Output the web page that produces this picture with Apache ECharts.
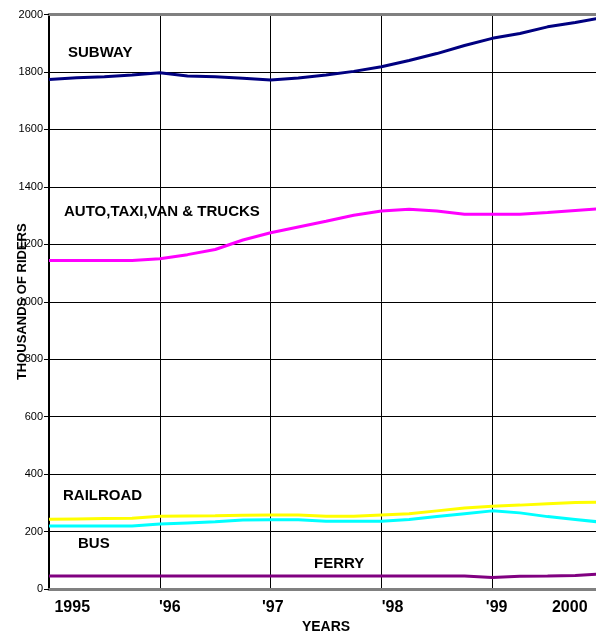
<!DOCTYPE html>
<html>
<head>
<meta charset="utf-8">
<script src="https://cdn.jsdelivr.net/npm/echarts@6/dist/echarts.min.js"></script>
<style>
html,body{margin:0;padding:0;background:#fff;}
#chart{width:596px;height:631px;}
</style>
</head>
<body>
<div id="chart"></div>
<script>
// x positions of readings (decimal years, quarterly)
const quarters = [1995, 1995.25, 1995.5, 1995.75, 1996, 1996.25, 1996.5, 1996.75,
  1997, 1997.25, 1997.5, 1997.75, 1998, 1998.25, 1998.5, 1998.75,
  1999, 1999.25, 1999.5, 1999.75, 2000];

// thousands of riders
const subway   = [1774, 1780, 1783, 1789, 1797, 1786, 1783, 1778, 1772, 1779, 1789, 1802, 1818, 1840, 1864, 1892, 1917, 1934, 1957, 1972, 1990];
const auto     = [1144, 1144, 1144, 1144, 1150, 1164, 1182, 1215, 1240, 1260, 1280, 1301, 1316, 1322, 1316, 1305, 1305, 1305, 1311, 1318, 1324];
const railroad = [243, 244, 245, 246, 253, 254, 255, 257, 258, 258, 253, 253, 258, 262, 272, 282, 288, 292, 297, 301, 302];
const bus      = [219, 219, 219, 219, 226, 230, 234, 240, 241, 241, 236, 236, 236, 242, 252, 262, 272, 265, 252, 242, 232];
const ferry    = [45, 45, 45, 45, 45, 45, 45, 45, 45, 45, 45, 45, 45, 45, 45, 45, 40, 44, 45, 47, 53];

const yearLabels = ['1995', "'96", "'97", "'98", "'99", '2000'];
// where each year label sits along the axis (layout)
const yearLabelPos = [1995.21, 1996.09, 1997.02, 1998.10, 1999.04, 1999.70];

const seriesNames = ['SUBWAY', 'AUTO,TAXI,VAN & TRUCKS', 'RAILROAD', 'BUS', 'FERRY'];

function pairs(vals) { return quarters.map((q, i) => [q, vals[i]]); }

const chart = echarts.init(document.getElementById('chart'), null, {renderer: 'canvas'});
const font = '"Liberation Sans", Arial, Helvetica, sans-serif';
const lbl = (text, x, y) => ({type: 'text', x: x, y: y, z: 10,
  style: {text: text, fill: '#000', font: 'bold 15px ' + font, verticalAlign: 'middle', align: 'left'}});

chart.setOption({
  animation: false,
  backgroundColor: '#fff',
  textStyle: {fontFamily: font},
  grid: {left: 49, right: -7, top: 14.5, bottom: 42, containLabel: false, outerBoundsMode: 'none'},
  xAxis: [{
    type: 'value', min: 1995, max: 2000, interval: 1,
    position: 'bottom',
    name: 'YEARS', nameLocation: 'middle', nameGap: 31, nameMoveOverlap: false,
    nameTextStyle: {fontSize: 14, fontWeight: 'bold', color: '#000', fontFamily: font},
    axisLine: {show: true, onZero: false, lineStyle: {color: '#808080', width: 3}},
    axisTick: {show: false},
    splitLine: {show: true, lineStyle: {color: '#000', width: 1}},
    axisLabel: {
      customValues: yearLabelPos,
      margin: 11, fontSize: 16, fontWeight: 'bold', color: '#000', fontFamily: font,
      formatter: function (v) {
        let best = 0, d = Infinity;
        yearLabelPos.forEach((p, i) => { if (Math.abs(p - v) < d) { d = Math.abs(p - v); best = i; } });
        return yearLabels[best];
      }
    }
  }, {
    type: 'value', min: 1995, max: 2000, position: 'top',
    axisLine: {show: true, onZero: false, lineStyle: {color: '#808080', width: 3}},
    axisTick: {show: false}, axisLabel: {show: false}, splitLine: {show: false}
  }],
  yAxis: {
    type: 'value', min: 0, max: 2000, interval: 200,
    name: 'THOUSANDS OF RIDERS', nameLocation: 'middle', nameGap: 20, nameRotate: 90, nameMoveOverlap: false,
    nameTextStyle: {fontSize: 13, fontWeight: 'bold', color: '#000', fontFamily: font},
    axisLine: {show: true, lineStyle: {color: '#000', width: 2}},
    axisTick: {show: true, length: 5, lineStyle: {color: '#000', width: 1}},
    axisLabel: {margin: 6, fontSize: 11, color: '#000', fontFamily: font, formatter: v => String(v)},
    splitLine: {show: true, lineStyle: {color: '#000', width: 1}}
  },
  series: [
    {name: seriesNames[0], type: 'line', data: pairs(subway), color: '#000080'},
    {name: seriesNames[1], type: 'line', data: pairs(auto), color: '#FF00FF'},
    {name: seriesNames[2], type: 'line', data: pairs(railroad), color: '#FFFF00'},
    {name: seriesNames[3], type: 'line', data: pairs(bus), color: '#00FFFF'},
    {name: seriesNames[4], type: 'line', data: pairs(ferry), color: '#800080'}
  ].map(s => Object.assign(s, {showSymbol: false, symbol: 'none', smooth: false,
    lineStyle: {width: 3, color: s.color}, z: 3})),
  graphic: [
    lbl(seriesNames[0], 68, 53),
    lbl(seriesNames[1], 64, 212),
    lbl(seriesNames[2], 63, 496),
    lbl(seriesNames[3], 78, 544),
    lbl(seriesNames[4], 314, 564)
  ]
});
</script>
</body>
</html>
